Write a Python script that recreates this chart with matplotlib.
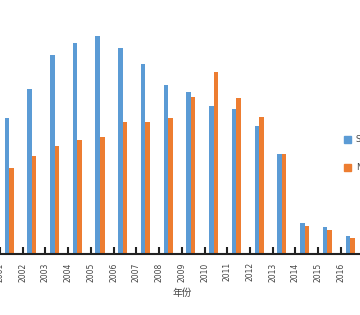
import matplotlib
matplotlib.use("Agg")
import matplotlib.pyplot as plt
from matplotlib.patches import Rectangle
import numpy as np

years = [str(y) for y in range(2001, 2017)]
series_names = ["SCI", "NSFC"]
blue_vals = [136, 165, 199, 211, 218, 206, 190, 169, 162, 148, 145, 128, 100, 31, 27, 18]
orange_vals = [86, 98, 108, 114, 117, 132, 132, 136, 157, 182, 156, 137, 100, 28, 24, 16]

BLUE = "#5B9BD5"
ORANGE = "#ED7D31"

fig = plt.figure(figsize=(3.6, 3.15), dpi=100)
ax = fig.add_axes([0, (315 - 254) / 315, 1, 254 / 315])

x = np.arange(len(years))
w = 0.2
ax.bar(x + 0.3, blue_vals, width=w, color=BLUE, label=series_names[0])
ax.bar(x + 0.5, orange_vals, width=w, color=ORANGE, label=series_names[1])

ax.set_xlim(1.1 / 22.8, 1.1 / 22.8 + 360 / 22.8)
ax.set_ylim(0, 254)

for s in ["top", "right", "left"]:
    ax.spines[s].set_visible(False)
ax.spines["bottom"].set_color("#222222")
ax.spines["bottom"].set_linewidth(1.5)
ax.set_yticks([])
ax.set_xticks(x)
ax.set_xticklabels(years, rotation=90, fontsize=5.5, color="#444444")
ax.tick_params(axis="x", direction="in", length=5, width=1.5, color="#222222", pad=6)

fig.text(182 / 360, 1 - 293 / 315, "年份", fontsize=7, color="#444444",
         family=["Noto Sans CJK SC", "DejaVu Sans"], ha="center", va="center")

# legend (cut off at right edge as in the reference)
for name, col, yc in [(series_names[0], BLUE, 139.5), (series_names[1], ORANGE, 167.5)]:
    fig.patches.append(Rectangle((344 / 360, 1 - (yc + 3.5) / 315), 7 / 360, 7 / 315,
                                 transform=fig.transFigure, color=col, figure=fig))
    fig.text(356 / 360, 1 - yc / 315, name, fontsize=6, color="#444444", va="center", ha="left")

fig.savefig("out.png", dpi=100)
